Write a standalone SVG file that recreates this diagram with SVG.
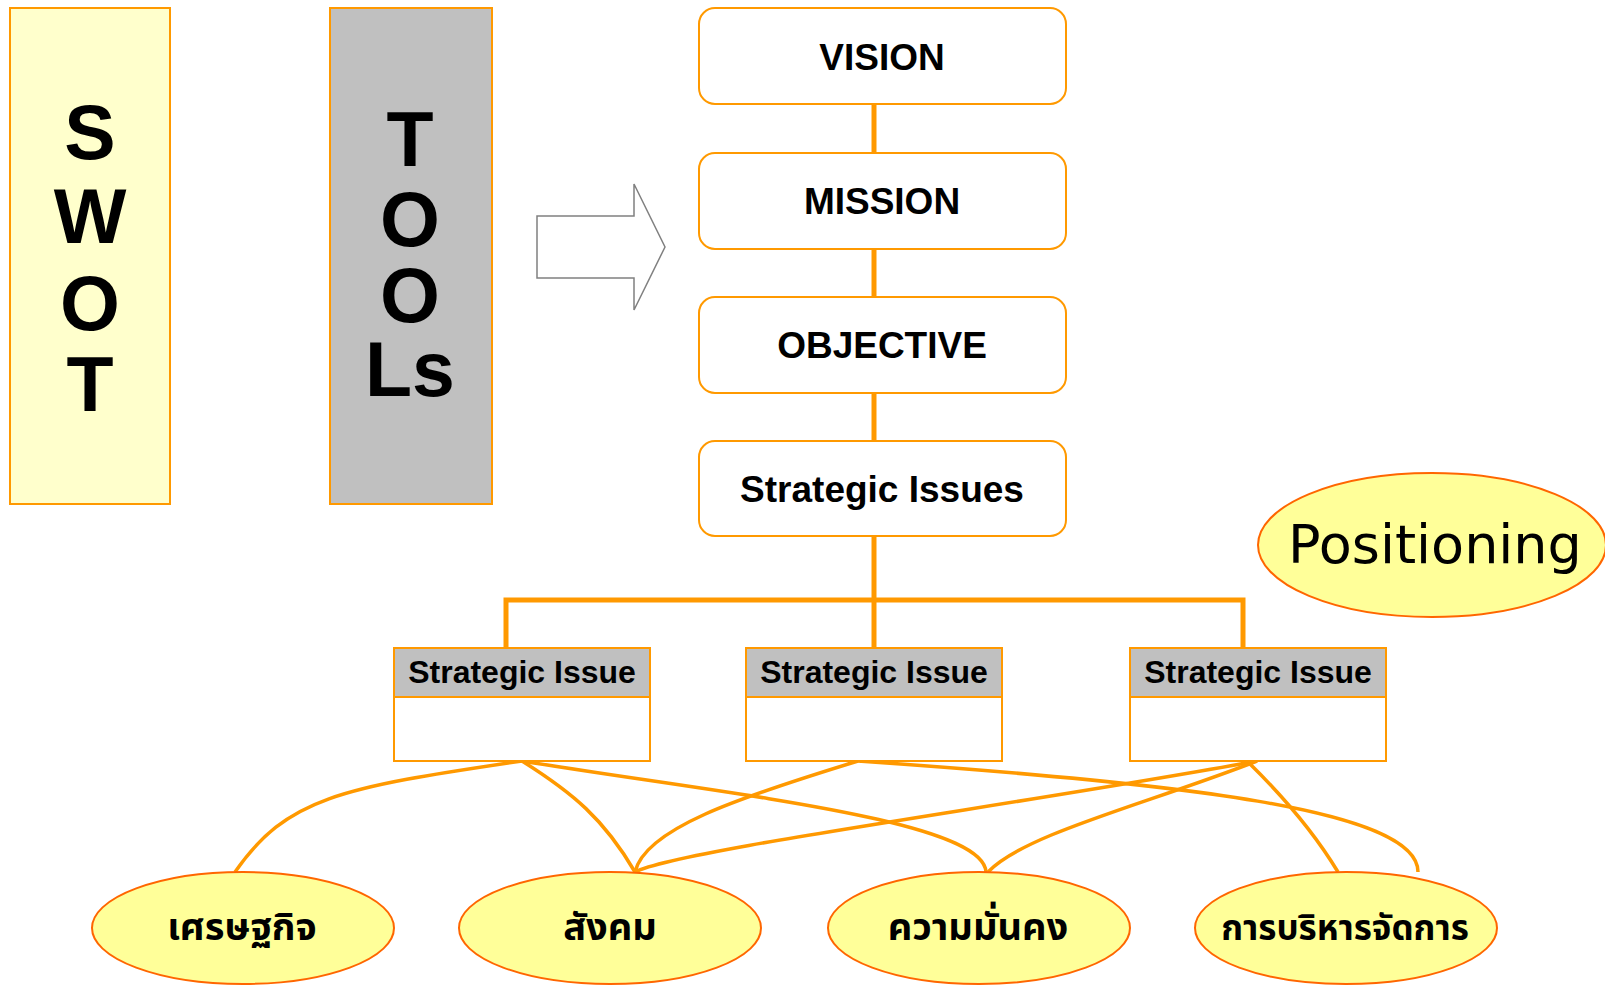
<svg xmlns="http://www.w3.org/2000/svg" width="1605" height="985" viewBox="0 0 1605 985">
<defs>
<style>
.big{font-family:"Liberation Sans",Arial,sans-serif;font-weight:bold;font-size:77px;fill:#000;text-anchor:middle}
.box{fill:#fff;stroke:#FF9900;stroke-width:2}
.lbl{font-family:"Liberation Sans",Arial,sans-serif;font-weight:bold;font-size:37px;fill:#000;text-anchor:middle}
.si{font-family:"Liberation Sans",Arial,sans-serif;font-weight:bold;font-size:32px;fill:#000;text-anchor:middle}
.hdr{fill:#C0C0C0;stroke:#FF9900;stroke-width:2}
.ell{fill:#FFFF99;stroke:#FF6600;stroke-width:2}
.thai{font-family:"Noto Sans Thai","Loma","Garuda","Norasi","DejaVu Sans",sans-serif;font-weight:bold;font-size:38px;fill:#000;text-anchor:middle}
.tree{stroke:#FF9900;stroke-width:5;fill:none}
.cv{stroke:#FF9900;stroke-width:3.5;fill:none}
</style>
</defs>
<rect width="1605" height="985" fill="#fff"/>
<g id="swot">
<rect x="10" y="8" width="160" height="496" fill="#FFFFCC" stroke="#FF9900" stroke-width="2"/>
<text class="big"><tspan x="90" y="159">S</tspan><tspan x="90" y="243">W</tspan><tspan x="90" y="330">O</tspan><tspan x="90" y="411">T</tspan></text>
</g>
<g id="tools">
<rect x="330" y="8" width="162" height="496" fill="#C0C0C0" stroke="#FF9900" stroke-width="2"/>
<text class="big"><tspan x="410" y="166">T</tspan><tspan x="410" y="246">O</tspan><tspan x="410" y="322">O</tspan><tspan x="410" y="396">Ls</tspan></text>
</g>
<g id="arrow">
<polygon points="537,216 634,216 634,184 665,247 634,310 634,278 537,278" fill="#fff" stroke="#808080" stroke-width="1.5"/>
</g>
<g id="connectors">
<line class="tree" x1="874" y1="104" x2="874" y2="153"/>
<line class="tree" x1="874" y1="249" x2="874" y2="297"/>
<line class="tree" x1="874" y1="393" x2="874" y2="441"/>
<line class="tree" x1="874" y1="536" x2="874" y2="649"/>
<polyline class="tree" points="506,649 506,600 1243,600 1243,649"/>
<path class="cv" d="M522,761 C338,788 287,798 235,872"/>
<path class="cv" d="M522,761 C573,793 604,819 635,872"/>
<path class="cv" d="M522,761 C717,793 983,819 986,872"/>
<path class="cv" d="M858,761 C737,798 645,829 635,872"/>
<path class="cv" d="M858,761 C1177,783 1418,809 1418,872"/>
<path class="cv" d="M1257,761 C1024,804 676,850 635,872"/>
<path class="cv" d="M1257,761 C1147,804 1024,834 988,872"/>
<path class="cv" d="M1247,761 C1285,798 1315,834 1338,872"/>
</g>
<g id="vision">
<rect class="box" x="699" y="8" width="367" height="96" rx="16"/>
<text class="lbl" x="882" y="70">VISION</text>
</g>
<g id="mission">
<rect class="box" x="699" y="153" width="367" height="96" rx="16"/>
<text class="lbl" x="882" y="214">MISSION</text>
</g>
<g id="objective">
<rect class="box" x="699" y="297" width="367" height="96" rx="16"/>
<text class="lbl" x="882" y="358">OBJECTIVE</text>
</g>
<g id="strategic-issues">
<rect class="box" x="699" y="441" width="367" height="95" rx="16"/>
<text class="lbl" x="882" y="502">Strategic Issues</text>
</g>
<g id="si1">
<rect class="box" x="394" y="648" width="256" height="113"/>
<rect class="hdr" x="394" y="648" width="256" height="49"/>
<text class="si" x="522" y="683">Strategic Issue</text>
</g>
<g id="si2">
<rect class="box" x="746" y="648" width="256" height="113"/>
<rect class="hdr" x="746" y="648" width="256" height="49"/>
<text class="si" x="874" y="683">Strategic Issue</text>
</g>
<g id="si3">
<rect class="box" x="1130" y="648" width="256" height="113"/>
<rect class="hdr" x="1130" y="648" width="256" height="49"/>
<text class="si" x="1258" y="683">Strategic Issue</text>
</g>
<g id="positioning">
<ellipse class="ell" cx="1432" cy="545" rx="174" ry="72"/>
<text x="1435" y="563" font-family="DejaVu Sans,sans-serif" font-size="54" text-anchor="middle" fill="#000">Positioning</text>
</g>
<g id="economy">
<ellipse class="ell" cx="243" cy="928" rx="151" ry="56"/>
<text class="thai" x="242" y="940">เศรษฐกิจ</text>
</g>
<g id="society">
<ellipse class="ell" cx="610" cy="928" rx="151" ry="56"/>
<text class="thai" x="610" y="940">สังคม</text>
</g>
<g id="security">
<ellipse class="ell" cx="979" cy="928" rx="151" ry="56"/>
<text class="thai" x="978" y="940">ความมั่นคง</text>
</g>
<g id="management">
<ellipse class="ell" cx="1346" cy="928" rx="151" ry="56"/>
<text class="thai" x="1345" y="940" style="font-size:35px">การบริหารจัดการ</text>
</g>
</svg>
